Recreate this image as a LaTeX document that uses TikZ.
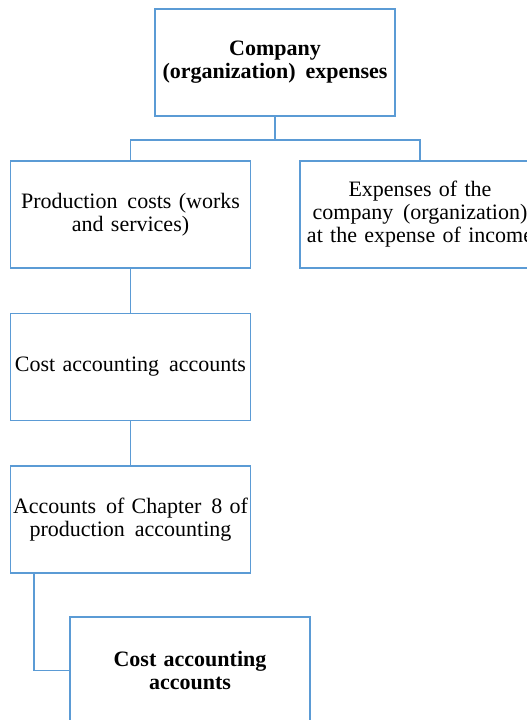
\documentclass[tikz,border=0pt]{standalone}
\usepackage{fontspec}
\setmainfont{Liberation Serif}
\usetikzlibrary{positioning}
\definecolor{boxblue}{RGB}{91,155,213}
\newcommand{\gap}{\hspace{0.45em}}
\tikzset{
  costbox/.style={draw=boxblue,line width=1.8pt,minimum width=240pt,minimum height=107pt,
    text width=236pt,inner sep=2pt,align=center,font=\fontsize{22}{23}\selectfont},
  titlebox/.style={costbox,font=\fontsize{22}{23}\selectfont\bfseries},
  link/.style={draw=boxblue,line width=1.8pt}
}
\begin{document}
\begin{tikzpicture}[x=1pt,y=-1pt]
  \clip (0,0) rectangle (527,720);
  \node[titlebox] (top) at (275,62.5) {Company\\(organization)\gap expenses};
  \node[costbox] (prod) at (130.5,214.5) {Production\gap costs (works\\and services)};
  \node[costbox] (inc) at (420,214.5) {Expenses of the\\company\gap (organization)\\at the expense of income};
  \node[costbox] (cost) at (130.5,367) {Cost accounting\gap accounts};
  \node[costbox] (acc) at (130.5,519.5) {Accounts\gap of Chapter\gap 8 of\\production\gap accounting};
  \node[titlebox] (costb) at (190,670.5) {Cost accounting\\accounts};
  % links
  \coordinate (split) at (275,140);
  \draw[link] (top.south) -- (split);
  \draw[link] (prod.north) |- (split) -| (inc.north);
  \draw[link] (prod) -- (cost);
  \draw[link] (cost) -- (acc);
  \draw[link] ([xshift=24pt]acc.south west) |- (costb.west);
\end{tikzpicture}
\end{document}
